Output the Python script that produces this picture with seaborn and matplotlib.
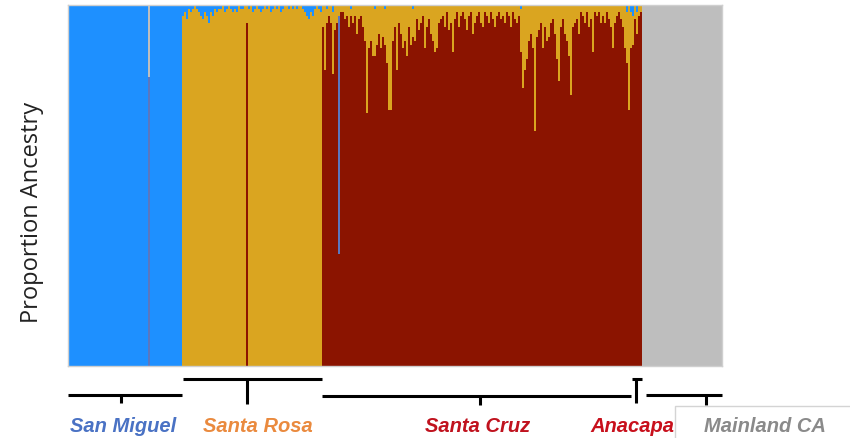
import numpy as np
import pandas as pd
import matplotlib
matplotlib.use("Agg")
import matplotlib.pyplot as plt
import matplotlib.transforms as mtransforms
from matplotlib.patches import Rectangle
import seaborn as sns

# populations, left to right
populations = ["San Miguel", "Santa Rosa", "Santa Cruz", "Anacapa", "Mainland CA"]
pop_sizes = [57, 70, 155, 5, 40]
main_cluster = ["blue", "gold", "red", "red", "gray"]

# ancestry clusters, bottom to top of each bar
clusters = ["red", "slate", "gold", "blue", "gray"]
cluster_colors = {"red": "#8b1400", "slate": "#5b77bf", "gold": "#daa520",
                  "blue": "#1e90ff", "gray": "#bebebe"}

# minor ancestry per individual (index within population -> proportion)
san_miguel_slate = {40: 0.80}
san_miguel_gray = {40: 0.20}

santa_rosa_blue = [0.03, 0.02, 0.04, 0.01, 0.02,
                   0.01, 0.00, 0.01, 0.02,
                   0.03, 0.04, 0.02, 0.03, 0.05, 0.02, 0.03, 0.01, 0.02, 0.01,
                   0.01, 0.00, 0.02, 0.01, 0.00, 0.01, 0.02,
                   0.01, 0.02, 0.00, 0.01, 0.01, 0.00,
                   0.00,
                   0.01, 0.00, 0.02, 0.01, 0.00, 0.01, 0.02, 0.01, 0.00, 0.01, 0.00, 0.02, 0.01,
                   0.00, 0.01, 0.00, 0.02, 0.01, 0.00, 0.00, 0.01, 0.00, 0.01,
                   0.00, 0.01, 0.00, 0.00, 0.01, 0.02, 0.03,
                   0.04, 0.02, 0.03, 0.01, 0.00, 0.01, 0.02]
santa_rosa_red = {32: 0.95}

santa_cruz_gold = [0.06, 0.18, 0.04, 0.03, 0.05, 0.17, 0.07, 0.05, 0.03, 0.02,
                   0.02, 0.04, 0.03, 0.06, 0.02, 0.05, 0.03, 0.08, 0.04, 0.03,
                   0.06, 0.10, 0.30, 0.12, 0.10, 0.14, 0.13, 0.11, 0.08, 0.12,
                   0.09, 0.10, 0.16, 0.29, 0.29, 0.10, 0.06, 0.18, 0.05, 0.08,
                   0.12, 0.10, 0.14, 0.06, 0.11, 0.08, 0.10, 0.04, 0.07, 0.05,
                   0.03, 0.12, 0.06, 0.04, 0.08, 0.10, 0.13, 0.12, 0.05, 0.04,
                   0.03, 0.06, 0.02, 0.07, 0.05, 0.13, 0.04, 0.02, 0.06, 0.03,
                   0.02, 0.04, 0.07, 0.03, 0.02, 0.08, 0.05, 0.03, 0.02, 0.05,
                   0.06, 0.02, 0.03, 0.05, 0.02, 0.04, 0.06, 0.03, 0.02, 0.04,
                   0.03, 0.05, 0.02, 0.03, 0.06, 0.02, 0.04, 0.05, 0.03, 0.12,
                   0.23, 0.18, 0.15, 0.10, 0.08, 0.12, 0.35, 0.09, 0.07, 0.05,
                   0.12, 0.06, 0.10, 0.09, 0.05, 0.04, 0.08, 0.15, 0.21, 0.06,
                   0.04, 0.08, 0.10, 0.14, 0.25, 0.06, 0.05, 0.04, 0.08, 0.02,
                   0.03, 0.05, 0.02, 0.06, 0.04, 0.13, 0.02, 0.03, 0.02, 0.05,
                   0.03, 0.05, 0.02, 0.04, 0.06, 0.12, 0.05, 0.03, 0.02, 0.04,
                   0.06, 0.12, 0.14, 0.29, 0.10]
santa_cruz_blue = {2: 0.01, 5: 0.02, 14: 0.01, 26: 0.01, 31: 0.01, 45: 0.01,
                   99: 0.01, 152: 0.02, 154: 0.02}
santa_cruz_slate = {8: 0.66}

anacapa_gold = [0.08, 0.04, 0.06, 0.03, 0.02]
anacapa_blue = [0.03, 0.00, 0.02, 0.00, 0.00]

minor = {
    "San Miguel": {"slate": san_miguel_slate, "gray": san_miguel_gray},
    "Santa Rosa": {"blue": dict(enumerate(santa_rosa_blue)), "red": santa_rosa_red},
    "Santa Cruz": {"gold": dict(enumerate(santa_cruz_gold)), "blue": santa_cruz_blue,
                   "slate": santa_cruz_slate},
    "Anacapa": {"gold": dict(enumerate(anacapa_gold)), "blue": dict(enumerate(anacapa_blue))},
    "Mainland CA": {},
}

# build long table: one row per individual x cluster
rows = []
ind = 0
pop_start = []
for pop, n, main in zip(populations, pop_sizes, main_cluster):
    pop_start.append(ind)
    for i in range(n):
        q = {c: minor[pop].get(c, {}).get(i, 0.0) for c in clusters}
        q[main] = 1 - sum(v for c, v in q.items() if c != main)
        for c in clusters:
            rows.append({"ind": ind, "cluster": c, "q": q[c]})
        ind += 1
df = pd.DataFrame(rows)
n_total = ind

W, H = 850, 439
fig = plt.figure(figsize=(W / 100, H / 100), dpi=100)
ax = fig.add_axes([68 / W, 1 - 367 / H, (722 - 68) / W, (367 - 6) / H])

sns.histplot(data=df, x="ind", hue="cluster", weights="q", discrete=True, shrink=1,
             multiple="stack", hue_order=clusters[::-1], palette=cluster_colors,
             alpha=1, linewidth=0, antialiased=False, legend=False, ax=ax)

ax.set_xlim(-0.5, n_total - 0.5)
ax.set_ylim(0, 1)
ax.set_xticks([])
ax.set_yticks([])
ax.set_xlabel("")
ax.set_ylabel("")
for s in ax.spines.values():
    s.set_color("#cfcfcf")
    s.set_linewidth(1)

fig.text(32 / W, 1 - 212 / H, "Proportion Ancestry", rotation=90, ha="center", va="center",
         fontsize=17, family="Open Sans", color="#222222")

# population brackets under the bars (y in axes fraction)
trans = mtransforms.blended_transform_factory(ax.transData, ax.transAxes)
bracket_y = [-0.080, -0.036, -0.083, -0.036, -0.080]
tick_bottom = [-0.103, -0.105, -0.108, -0.103, -0.108]
tick_x = [26, 89, 205.5, 283.5, 318.5]
pad_left = [0, 0.5, 0, 0.2, 2.0]
pad_right = [0, 0, 0.6, 0, 0]
for k, (start, n) in enumerate(zip(pop_start, pop_sizes)):
    x0 = start - 0.5 + pad_left[k]
    x1 = start + n - 0.5 - pad_right[k]
    ax.plot([x0, x1], [bracket_y[k]] * 2, color="black", lw=2.2, transform=trans,
            clip_on=False, solid_capstyle="butt")
    ax.plot([tick_x[k]] * 2, [bracket_y[k], tick_bottom[k]], color="black", lw=2.2,
            transform=trans, clip_on=False, solid_capstyle="butt")

# box that covers the Mainland label area
fig.patches.append(Rectangle((675 / W, 1 - 441 / H), 180 / W, 34 / H,
                             transform=fig.transFigure, facecolor="white",
                             edgecolor="#d4d4d4", linewidth=1, zorder=2))

label_x = [123, 258, 478, 632, 765]
label_colors = ["#4a72c4", "#ea8a3e", "#c0121e", "#c8101c", "#8a8a8a"]
for pop, lx, col in zip(populations, label_x, label_colors):
    fig.text(lx / W, 1 - 432 / H, pop, ha="center", va="baseline", fontsize=14.5,
             fontweight="bold", fontstyle="italic", family="Liberation Sans",
             color=col, zorder=3)

fig.savefig("out.png", dpi=100)
